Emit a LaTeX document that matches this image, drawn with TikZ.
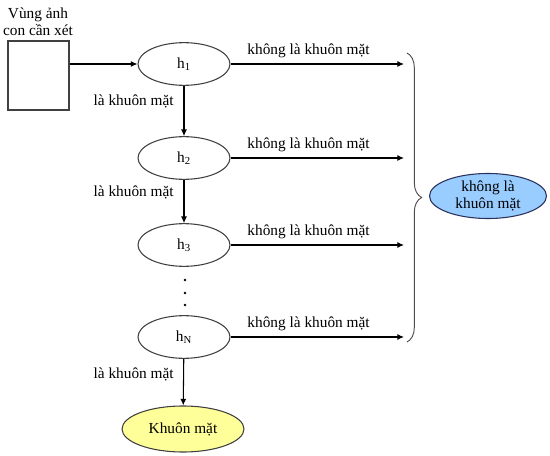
\documentclass[tikz,border=0pt]{standalone}
\usepackage{fontspec}
\setmainfont{Liberation Serif}
\usetikzlibrary{decorations.pathreplacing,arrows.meta,shapes.geometric}

\definecolor{faceyellow}{RGB}{255,255,153}
\definecolor{notblue}{RGB}{153,204,255}
\definecolor{notborder}{RGB}{40,50,90}

\tikzset{
    classifier/.style={ellipse,draw=black!75,line width=0.8pt,minimum width=69pt,minimum height=32pt,inner sep=0pt},
    result/.style={ellipse,draw=black!75,line width=0.8pt,inner sep=0pt,align=center},
    flow/.style={-{Latex[length=5pt,width=4.5pt]},line width=0.8pt},
    txt/.style={font=\fontsize{11.5}{12.8}\selectfont,inner sep=0pt}
}

\begin{document}
\begin{tikzpicture}[x=0.75pt,y=-0.75pt,every node/.style={txt}]
    \useasboundingbox (0,0) rectangle (550,456);

    % input window
    \node[draw=black!75,line width=0.8pt,minimum width=45.75pt,minimum height=51.75pt] (window) at (38.5,75.5) {};
    \node[align=center] (windowlbl) at (38,22) {Vùng ảnh\\con cần xét};

    % cascade of classifiers
    \node[classifier] (h1) at (184,64) {h\textsubscript{1}};
    \node[classifier] (h2) at (184,158) {h\textsubscript{2}};
    \node[classifier] (h3) at (184,245) {h\textsubscript{3}};
    \node[classifier] (hN) at (184,337) {h\textsubscript{N}};
    \node[result,fill=faceyellow,minimum width=91.5pt,minimum height=34.5pt] (face) at (183,429) {Khuôn mặt};

    \foreach \y in {280,293,305}
        \fill (185,\y) circle (1.3);

    \draw[flow] (window.east |- h1) -- (h1);
    \draw[flow] (h1) -- (h2);
    \draw[flow] (h2) -- (h3);
    \draw[flow] (hN) -- (face);

    \node[anchor=east] (yes1) at (174,101) {là khuôn mặt};
    \node[anchor=east] (yes2) at (174,192) {là khuôn mặt};
    \node[anchor=east] (yesN) at (174,374) {là khuôn mặt};

    % rejections
    \foreach \h/\y in {h1/64,h2/158,h3/245,hN/337}{
        \coordinate (end\h) at (404,\y);
        \draw[flow] (\h) -- (end\h) node[pos=0.45,above=4.5pt] (no\h) {không là khuôn mặt};
    }

    \coordinate (bracetop) at (407,53);
    \coordinate (bracebot) at (407,342);
    \draw[black!70,line width=0.7pt,decorate,decoration={brace,amplitude=11pt}] (bracetop) -- (bracebot);

    \node[result,draw=notborder,fill=notblue,minimum width=87.75pt,minimum height=33.75pt] (notface) at (488,196) {không là\\khuôn mặt};
\end{tikzpicture}
\end{document}
